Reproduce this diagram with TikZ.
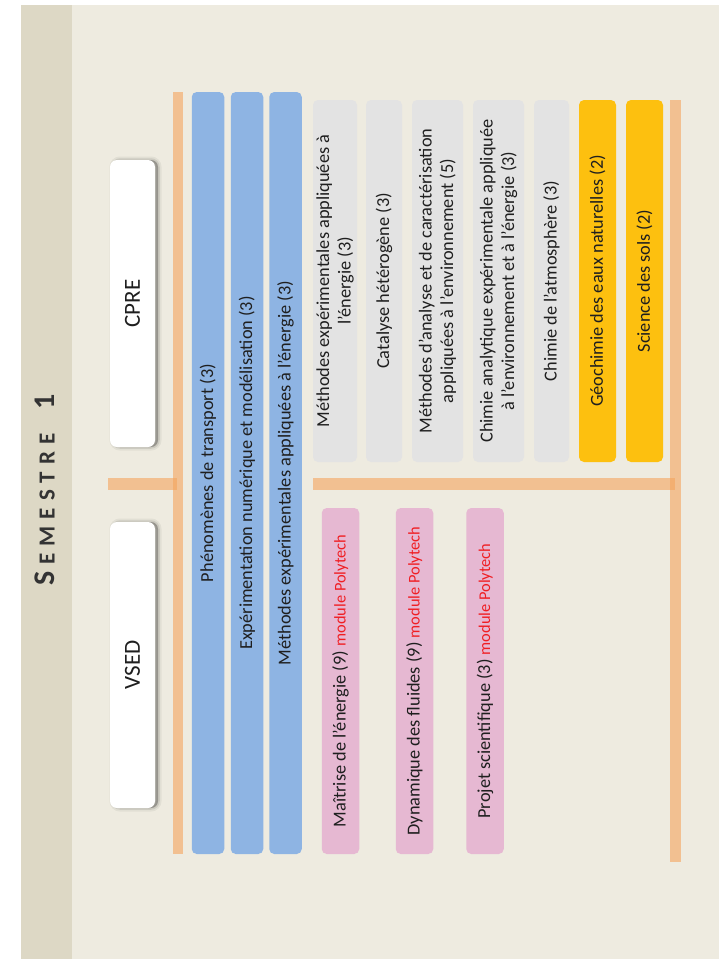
\documentclass[tikz,border=0pt]{standalone}
\usepackage{fontspec}
\setmainfont{Carlito}
\definecolor{bgc}{HTML}{EEEBE0}
\definecolor{stripc}{HTML}{DDD8C5}
\definecolor{orangec}{HTML}{F5A45D}
\definecolor{bluec}{HTML}{8EB4E3}
\definecolor{grayc}{HTML}{E3E3E3}
\definecolor{yellowc}{HTML}{FDC00F}
\definecolor{pinkc}{HTML}{E6B8D2}
\definecolor{txtc}{HTML}{1F1F1F}
\definecolor{polyred}{HTML}{F01E23}
\definecolor{titlec}{HTML}{333333}
\begin{document}
\begin{tikzpicture}[x=1pt,y=-1pt,
  txt/.style={text=txtc, font=\fontsize{18.3}{21.5}\selectfont, align=center, inner sep=0pt},
  bar/.style={txt, rotate=90, rounded corners=5pt},
  bluebar/.style={bar, fill=bluec, minimum width=762pt, minimum height=32.5pt},
  graybox/.style={bar, fill=grayc, minimum width=362pt},
  yellowbox/.style={bar, fill=yellowc, minimum width=362pt, minimum height=37pt},
  pinkbox/.style={bar, fill=pinkc, minimum width=346pt, minimum height=37.5pt},
  whitebox/.style={fill=white, rounded corners=7pt, inner sep=0pt, text=txtc,
    font=\fontsize{23}{23}\selectfont, minimum width=45pt,
    preaction={fill=black, fill opacity=0.05, draw=black, draw opacity=0.05, line width=7pt, transform canvas={xshift=3pt}},
    preaction={fill=black, fill opacity=0.09, draw=black, draw opacity=0.09, line width=3.5pt, transform canvas={xshift=3pt}},
    preaction={fill=black, fill opacity=0.14, transform canvas={xshift=3pt}}},
  orangebar/.style={fill=orangec, fill opacity=0.6}
]
\useasboundingbox (0,0) rectangle (719,959);
% backgrounds
\fill[white] (0,0) rectangle (719,959);
\fill[bgc] (21,5) rectangle (719,959);
\fill[stripc] (21,5) rectangle (72,959);

% title
\node[rotate=90, inner sep=0pt, text=titlec, font=\bfseries] (title) at (45,490)
  {\fontsize{30}{30}\selectfont S\kern7pt\fontsize{23}{23}\selectfont E\kern7pt M\kern7pt E\kern7pt S\kern7pt T\kern7pt R\kern7pt E\kern24pt\fontsize{30}{30}\selectfont 1};

% orange separators
\fill[orangebar] (173,92) rectangle (183,854);
\fill[orangebar] (108,478) rectangle (177,490);
\fill[orangebar] (313,478) rectangle (675,490);
\fill[orangebar] (670,100) rectangle (681,862);

% header boxes
\node[whitebox, minimum height=287pt] (cpre) at (132.5,303.5) {\rotatebox{90}{CPRE}};
\node[whitebox, minimum height=286pt] (vsed) at (132.5,665) {\rotatebox{90}{VSED}};

% common blue courses
\node[bluebar] (b1) at (208,473) {Phénomènes de transport (3)};
\node[bluebar] (b2) at (247,473) {Expérimentation numérique et modélisation (3)};
\node[bluebar] (b3) at (285.5,473) {Méthodes expérimentales appliquées à l’énergie (3)};

% CPRE courses
\node[graybox, minimum height=44pt] (g1) at (335,281) {Méthodes expérimentales appliquées à\\l’énergie (3)};
\node[graybox, minimum height=36pt] (g2) at (384,281) {Catalyse hétérogène (3)};
\node[graybox, minimum height=51pt] (g3) at (437.5,281) {Méthodes d’analyse et de caractérisation\\appliquées à l’environnement (5)};
\node[graybox, minimum height=51pt] (g4) at (498.5,281) {Chimie analytique expérimentale appliquée\\à l’environnement et à l’énergie (3)};
\node[graybox, minimum height=35pt] (g5) at (551.5,281) {Chimie de l’atmosphère (3)};
\node[yellowbox] (y1) at (597.5,281) {Géochimie des eaux naturelles (2)};
\node[yellowbox] (y2) at (644.5,281) {Science des sols (2)};

% VSED courses
\node[pinkbox] (k1) at (340.5,681) {Maîtrise de l’énergie (9) {\color{polyred}\fontsize{16.4}{19}\selectfont module Polytech}};
\node[pinkbox] (k2) at (414.5,681) {Dynamique des fluides (9) {\color{polyred}\fontsize{16.4}{19}\selectfont module Polytech}};
\node[pinkbox] (k3) at (485,681) {Projet scientifique (3) {\color{polyred}\fontsize{16.4}{19}\selectfont module Polytech}};
\end{tikzpicture}
\end{document}
